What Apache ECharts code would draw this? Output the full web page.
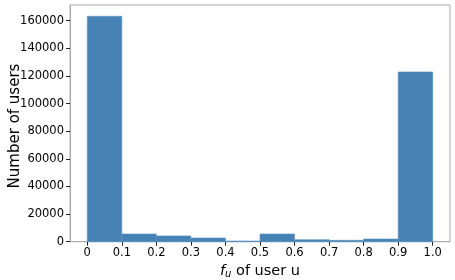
<!DOCTYPE html>
<html><head><meta charset="utf-8">
<script src="https://cdn.jsdelivr.net/npm/echarts@6/dist/echarts.min.js"></script>
<style>html,body{margin:0;padding:0;background:#fff}#c{width:455px;height:280px}</style>
</head><body><div id="c"></div>
<script>
const binEdges = [0, 0.1, 0.2, 0.3, 0.4, 0.5, 0.6, 0.7, 0.8, 0.9, 1.0];
const userCounts = [163200, 5600, 4200, 2700, 500, 5600, 1450, 1000, 1950, 122900];
const xTicks = [0, 0.1, 0.2, 0.3, 0.4, 0.5, 0.6, 0.7, 0.8, 0.9, 1.0];
const yTickStep = 20000;
const yTickMax = 160000;
const xTitle = '{i|f}{s|u} of user u';
const yTitle = 'Number of users';

const maxCount = Math.max(...userCounts);
const yMax = maxCount * 1.05;
const span = binEdges[binEdges.length - 1] - binEdges[0];
const xMin = binEdges[0] - 0.05 * span, xMax = binEdges[binEdges.length - 1] + 0.05 * span;

const gL = 70, gT = 5, gR = 5, gB = 38.3;
const gW = 455 - gL - gR, gH = 280 - gT - gB;
const pxX = gW / (xMax - xMin), pxY = gH / yMax;
const bLeft = gL + (xTicks[0] - xMin) * pxX;
const bRight = 455 - (gL + (xTicks[xTicks.length - 1] - xMin) * pxX);
const bTop = gT + (yMax - yTickMax) * pxY;

const font = 'DejaVu Sans';
const spine = '#ababab';
const barData = userCounts.map((c, i) => [binEdges[i], binEdges[i + 1], c]);
const hiddenParts = {axisTick: {show: false}, axisLabel: {show: false}, splitLine: {show: false}};

const chart = echarts.init(document.getElementById('c'), null, {renderer: 'canvas'});
chart.setOption({
  animation: false,
  grid: [
    {left: gL, top: gT, right: gR, bottom: gB, show: true, borderColor: spine, borderWidth: 1, backgroundColor: 'transparent', outerBoundsMode: 'none', containLabel: false},
    {left: bLeft, top: bTop, right: bRight, bottom: gB, show: false, outerBoundsMode: 'none', containLabel: false}
  ],
  graphic: [
    {type: 'text', x: 15, y: 126, rotation: Math.PI / 2,
     style: {text: yTitle, font: '15px "DejaVu Sans"', fill: '#000', align: 'center', verticalAlign: 'middle'}}
  ],
  xAxis: [
    Object.assign({gridIndex: 0, type: 'value', min: xMin, max: xMax, position: 'bottom',
      axisLine: {show: true, onZero: false, lineStyle: {color: spine, width: 1}}}, hiddenParts),
    {gridIndex: 1, type: 'value', min: xTicks[0], max: xTicks[xTicks.length - 1], interval: 0.1,
     axisLine: {show: false, onZero: false}, splitLine: {show: false},
     axisTick: {show: true, length: 4, lineStyle: {color: '#222'}},
     axisLabel: {fontFamily: font, fontSize: 11.5, color: '#000', margin: 5,
       formatter: v => { const r = Math.round(v * 10) / 10; return r === 0 ? '0' : r.toFixed(1); }},
     name: xTitle, nameLocation: 'middle', nameGap: 20,
     nameTextStyle: {fontFamily: font, fontSize: 14.5, color: '#000',
       rich: {i: {fontFamily: font, fontSize: 14.5, fontStyle: 'italic', color: '#000'},
              s: {fontFamily: font, fontSize: 10, fontStyle: 'italic', color: '#000', verticalAlign: 'bottom', padding: [6, 0, 0, 0]}}}
    }
  ],
  yAxis: [
    Object.assign({gridIndex: 0, type: 'value', min: 0, max: yMax, position: 'left',
      axisLine: {show: true, onZero: false, lineStyle: {color: spine, width: 1}}}, hiddenParts),
    {gridIndex: 1, type: 'value', min: 0, max: yTickMax, interval: yTickStep, offset: bLeft - gL,
     axisLine: {show: false, onZero: false}, splitLine: {show: false},
     axisTick: {show: true, length: 4, lineStyle: {color: '#222'}},
     axisLabel: {fontFamily: font, fontSize: 11.5, color: '#000', margin: 6, formatter: v => String(v)}
    }
  ],
  series: [{
    type: 'custom', xAxisIndex: 0, yAxisIndex: 0,
    data: barData,
    encode: {x: [0, 1], y: 2},
    renderItem: (params, api) => {
      const p0 = api.coord([api.value(0), api.value(2)]);
      const p1 = api.coord([api.value(1), 0]);
      return {type: 'rect', shape: {x: p0[0], y: p0[1], width: p1[0] - p0[0], height: p1[1] - p0[1]},
        style: {fill: '#4682b4', stroke: '#5b93c2', lineWidth: 0.6}};
    }
  }]
});
</script></body></html>
